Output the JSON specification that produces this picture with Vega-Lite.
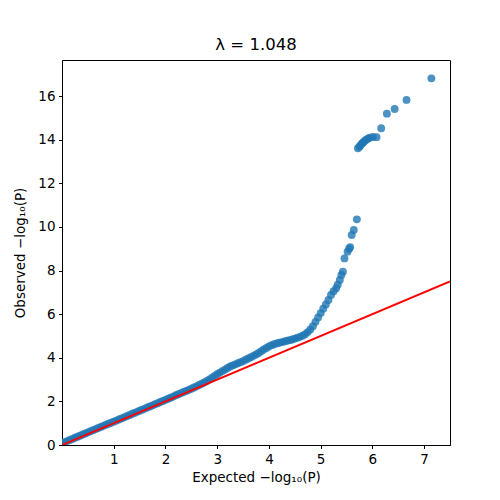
{
  "$schema": "https://vega.github.io/schema/vega-lite/v6.json",
  "autosize": "none",
  "padding": {"left": 62, "top": 60, "right": 50, "bottom": 55},
  "width": 388,
  "height": 385,
  "title": {"text": "λ = 1.048", "font": "DejaVu Sans", "fontSize": 16.5, "fontWeight": "normal", "color": "black", "offset": 7},
  "config": {
    "view": {"stroke": "black", "strokeWidth": 1},
    "axis": {
      "domainColor": "black", "tickColor": "black", "labelColor": "black", "titleColor": "black",
      "labelFont": "DejaVu Sans", "titleFont": "DejaVu Sans",
      "labelFontSize": 13.5, "titleFontSize": 13.5, "titleFontWeight": "normal",
      "tickSize": 3.5, "labelPadding": 3.5, "grid": false
    }
  },
  "layer": [
    {
      "data": {"values": [
        {"e": 0.00, "o": 0.08}, {"e": 0.05, "o": 0.13}, {"e": 0.10, "o": 0.18}, {"e": 0.15, "o": 0.23},
        {"e": 0.20, "o": 0.28}, {"e": 0.25, "o": 0.33}, {"e": 0.30, "o": 0.38}, {"e": 0.35, "o": 0.43},
        {"e": 0.40, "o": 0.48}, {"e": 0.45, "o": 0.53}, {"e": 0.50, "o": 0.58}, {"e": 0.55, "o": 0.63},
        {"e": 0.60, "o": 0.68}, {"e": 0.65, "o": 0.73}, {"e": 0.70, "o": 0.78}, {"e": 0.75, "o": 0.83},
        {"e": 0.80, "o": 0.88}, {"e": 0.85, "o": 0.93}, {"e": 0.90, "o": 0.98}, {"e": 0.95, "o": 1.02},
        {"e": 1.00, "o": 1.07}, {"e": 1.05, "o": 1.12}, {"e": 1.10, "o": 1.17}, {"e": 1.15, "o": 1.22},
        {"e": 1.20, "o": 1.27}, {"e": 1.25, "o": 1.32}, {"e": 1.30, "o": 1.37}, {"e": 1.35, "o": 1.42},
        {"e": 1.40, "o": 1.47}, {"e": 1.45, "o": 1.52}, {"e": 1.50, "o": 1.57}, {"e": 1.55, "o": 1.62},
        {"e": 1.60, "o": 1.67}, {"e": 1.65, "o": 1.72}, {"e": 1.70, "o": 1.77}, {"e": 1.75, "o": 1.82},
        {"e": 1.80, "o": 1.87}, {"e": 1.85, "o": 1.92}, {"e": 1.90, "o": 1.97}, {"e": 1.95, "o": 2.02},
        {"e": 2.00, "o": 2.07}, {"e": 2.05, "o": 2.12}, {"e": 2.10, "o": 2.17}, {"e": 2.15, "o": 2.22},
        {"e": 2.20, "o": 2.28}, {"e": 2.25, "o": 2.33}, {"e": 2.30, "o": 2.38}, {"e": 2.35, "o": 2.43},
        {"e": 2.40, "o": 2.48}, {"e": 2.45, "o": 2.53}, {"e": 2.50, "o": 2.58}, {"e": 2.55, "o": 2.64},
        {"e": 2.60, "o": 2.69}, {"e": 2.65, "o": 2.75}, {"e": 2.70, "o": 2.81}, {"e": 2.75, "o": 2.87},
        {"e": 2.80, "o": 2.94}, {"e": 2.85, "o": 3.01}, {"e": 2.90, "o": 3.09}, {"e": 2.95, "o": 3.17},
        {"e": 3.00, "o": 3.25}, {"e": 3.05, "o": 3.32}, {"e": 3.10, "o": 3.39}, {"e": 3.15, "o": 3.46},
        {"e": 3.20, "o": 3.53}, {"e": 3.25, "o": 3.60}, {"e": 3.30, "o": 3.65}, {"e": 3.35, "o": 3.70},
        {"e": 3.40, "o": 3.75}, {"e": 3.45, "o": 3.80}, {"e": 3.50, "o": 3.85}, {"e": 3.55, "o": 3.91},
        {"e": 3.60, "o": 3.97}, {"e": 3.65, "o": 4.03}, {"e": 3.70, "o": 4.09}, {"e": 3.75, "o": 4.15},
        {"e": 3.80, "o": 4.22}, {"e": 3.85, "o": 4.30}, {"e": 3.90, "o": 4.38}, {"e": 3.95, "o": 4.45},
        {"e": 4.00, "o": 4.52}, {"e": 4.05, "o": 4.58}, {"e": 4.10, "o": 4.62}, {"e": 4.15, "o": 4.66},
        {"e": 4.20, "o": 4.69}, {"e": 4.25, "o": 4.72}, {"e": 4.30, "o": 4.75}, {"e": 4.35, "o": 4.78},
        {"e": 4.40, "o": 4.81}, {"e": 4.45, "o": 4.84}, {"e": 4.50, "o": 4.88}, {"e": 4.55, "o": 4.92},
        {"e": 4.60, "o": 4.96}, {"e": 4.65, "o": 5.01}, {"e": 4.70, "o": 5.08}, {"e": 4.75, "o": 5.18},
        {"e": 4.80, "o": 5.30}, {"e": 4.85, "o": 5.45}, {"e": 4.90, "o": 5.65}, {"e": 4.95, "o": 5.85},
        {"e": 5.00, "o": 6.05}, {"e": 5.05, "o": 6.25}, {"e": 5.10, "o": 6.45}, {"e": 5.15, "o": 6.65},
        {"e": 5.20, "o": 6.88}, {"e": 5.25, "o": 7.05}, {"e": 5.30, "o": 7.19}, {"e": 5.33, "o": 7.35},
        {"e": 5.37, "o": 7.57}, {"e": 5.40, "o": 7.80}, {"e": 5.43, "o": 7.95}, {"e": 5.46, "o": 8.56},
        {"e": 5.52, "o": 8.87}, {"e": 5.55, "o": 9.00}, {"e": 5.57, "o": 9.07}, {"e": 5.60, "o": 9.63},
        {"e": 5.64, "o": 9.86}, {"e": 5.70, "o": 10.35},
        {"e": 5.72, "o": 13.61}, {"e": 5.75, "o": 13.68}, {"e": 5.77, "o": 13.75}, {"e": 5.80, "o": 13.83},
        {"e": 5.82, "o": 13.88}, {"e": 5.85, "o": 13.95}, {"e": 5.88, "o": 14.00}, {"e": 5.92, "o": 14.06},
        {"e": 5.95, "o": 14.10}, {"e": 6.01, "o": 14.13}, {"e": 6.08, "o": 14.12}, {"e": 6.17, "o": 14.53},
        {"e": 6.28, "o": 15.20}, {"e": 6.43, "o": 15.41}, {"e": 6.66, "o": 15.83}, {"e": 7.14, "o": 16.82}
      ]},
      "mark": {"type": "circle", "size": 62, "color": "#1f77b4", "opacity": 0.8, "clip": true},
      "encoding": {
        "x": {
          "field": "e", "type": "quantitative",
          "title": "Expected −log₁₀(P)",
          "scale": {"domain": [0, 7.5], "nice": false, "zero": false},
          "axis": {"values": [1, 2, 3, 4, 5, 6, 7], "titlePadding": 5}
        },
        "y": {
          "field": "o", "type": "quantitative",
          "title": "Observed −log₁₀(P)",
          "scale": {"domain": [0, 17.66], "nice": false},
          "axis": {"values": [0, 2, 4, 6, 8, 10, 12, 14, 16], "titlePadding": 10}
        }
      }
    },
    {
      "data": {"values": [{"e": 0, "o": 0}, {"e": 7.5, "o": 7.5}]},
      "mark": {"type": "line", "color": "red", "strokeWidth": 2, "clip": true},
      "encoding": {
        "x": {"field": "e", "type": "quantitative"},
        "y": {"field": "o", "type": "quantitative"}
      }
    }
  ]
}
